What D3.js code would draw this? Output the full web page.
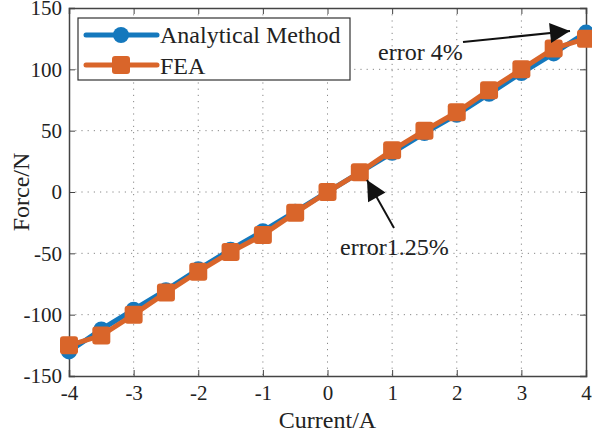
<!DOCTYPE html>
<meta charset="utf-8">
<head>
  <title>Force vs current</title>
</head>

<style>
body {
  margin: 0;
  background: #fff;
}
text {
  font-family: "Liberation Serif", "Times New Roman", serif;
  fill: #222;
}
</style>

<body>
  <div id="content">
    <svg width="592" height="436"></svg>
  </div>

  <script src="https://cdnjs.cloudflare.com/ajax/libs/d3/7.8.5/d3.min.js"></script>

  <script>
var current = [-4, -3.5, -3, -2.5, -2, -1.5, -1, -0.5, 0, 0.5, 1, 1.5, 2, 2.5, 3, 3.5, 4];
var analytical = [-130, -112, -96, -80, -63, -47, -32, -16, 0, 16, 32, 48, 63, 80, 97, 113, 130];
var fea = [-125, -117, -100, -82, -65, -49, -35, -17, 0, 16, 34, 50, 65, 83, 100, 117, 125];
var xTicks = [-4, -3, -2, -1, 0, 1, 2, 3, 4];
var yTicks = [-150, -100, -50, 0, 50, 100, 150];

var svg = d3.select('#content svg');

// plot box (don't use "top" - it's window.top)
var pL = 69, pR = 586, pT = 8, pB = 376;

var x = d3.scaleLinear().domain([-4, 4]).range([pL, pR]);
var y = d3.scaleLinear().domain([-150, 150]).range([pB, pT]);

var fmt = d => String(d);

// grid
var grid = svg.append('g')
  .attr('stroke', '#888')
  .attr('stroke-width', 1)
  .attr('stroke-dasharray', '1.2,5');

grid.selectAll('.vg')
  .data(xTicks.slice(1, -1))
  .enter().append('line')
  .attr('x1', d => x(d)).attr('x2', d => x(d))
  .attr('y1', pT).attr('y2', pB);

grid.selectAll('.hg')
  .data(yTicks.slice(1, -1))
  .enter().append('line')
  .attr('x1', pL).attr('x2', pR)
  .attr('y1', d => y(d)).attr('y2', d => y(d));

// axes (ticks inside, like matlab)
svg.append('g')
  .attr('transform', 'translate(0,' + pB + ')')
  .call(d3.axisBottom(x).tickValues(xTicks).tickSize(-6).tickPadding(9).tickFormat(fmt));
svg.append('g')
  .attr('transform', 'translate(0,' + pT + ')')
  .call(d3.axisTop(x).tickValues(xTicks).tickSize(-6).tickFormat(''));
svg.append('g')
  .attr('transform', 'translate(' + pL + ',0)')
  .call(d3.axisLeft(y).tickValues(yTicks).tickSize(-6).tickPadding(7).tickFormat(fmt));
svg.append('g')
  .attr('transform', 'translate(' + pR + ',0)')
  .call(d3.axisRight(y).tickValues(yTicks).tickSize(-6).tickFormat(''));

svg.selectAll('.domain').attr('stroke', '#444').attr('stroke-width', 1.5);
svg.selectAll('.tick line').attr('stroke', '#444');
svg.selectAll('.tick text')
  .style('font-family', '"Liberation Serif", serif')
  .style('font-size', '21px')
  .attr('fill', '#333');

// axis labels
svg.append('text')
  .attr('x', x(0)).attr('y', 428)
  .attr('text-anchor', 'middle')
  .style('font-size', '24px')
  .text('Current/A');

svg.append('text')
  .attr('transform', 'translate(29,' + y(0) + ') rotate(-90)')
  .attr('text-anchor', 'middle')
  .style('font-size', '24px')
  .text('Force/N');

// series
var blue = '#1478bd', orange = '#d9652a';
var line = d3.line().x((d, i) => x(current[i])).y(d => y(d));

svg.append('path')
  .datum(analytical)
  .attr('d', line)
  .attr('fill', 'none')
  .attr('stroke', blue)
  .attr('stroke-width', 5);

svg.selectAll('.dot')
  .data(analytical)
  .enter().append('circle')
  .attr('cx', (d, i) => x(current[i]))
  .attr('cy', d => y(d))
  .attr('r', 8)
  .attr('fill', blue);

svg.append('path')
  .datum(fea)
  .attr('d', line)
  .attr('fill', 'none')
  .attr('stroke', orange)
  .attr('stroke-width', 5);

svg.selectAll('.sq')
  .data(fea)
  .enter().append('rect')
  .attr('x', (d, i) => x(current[i]) - 9)
  .attr('y', d => y(d) - 9)
  .attr('width', 18)
  .attr('height', 18)
  .attr('rx', 3)
  .attr('fill', orange);

// legend
var legend = svg.append('g');
legend.append('rect')
  .attr('x', 78).attr('y', 18)
  .attr('width', 272).attr('height', 62)
  .attr('fill', '#fff')
  .attr('stroke', '#333')
  .attr('stroke-width', 1.2);

legend.append('line')
  .attr('x1', 86).attr('x2', 157).attr('y1', 35).attr('y2', 35)
  .attr('stroke', blue).attr('stroke-width', 5).attr('stroke-linecap', 'round');
legend.append('circle')
  .attr('cx', 121).attr('cy', 35).attr('r', 8).attr('fill', blue);
legend.append('text')
  .attr('x', 160).attr('y', 43)
  .style('font-size', '24px')
  .text('Analytical Method');

legend.append('line')
  .attr('x1', 86).attr('x2', 157).attr('y1', 65).attr('y2', 65)
  .attr('stroke', orange).attr('stroke-width', 5).attr('stroke-linecap', 'round');
legend.append('rect')
  .attr('x', 112).attr('y', 56).attr('width', 18).attr('height', 18).attr('rx', 3)
  .attr('fill', orange);
legend.append('text')
  .attr('x', 160).attr('y', 74)
  .style('font-size', '24px')
  .text('FEA');

// annotations
svg.append('defs').append('marker')
  .attr('id', 'arrow')
  .attr('viewBox', '0 0 10 10')
  .attr('refX', 10).attr('refY', 5)
  .attr('markerWidth', 28).attr('markerHeight', 20)
  .attr('markerUnits', 'userSpaceOnUse')
  .attr('orient', 'auto')
  .append('path')
  .attr('d', 'M0,0 L10,5 L0,10 z')
  .attr('fill', '#111');

svg.append('line')
  .attr('x1', 463).attr('y1', 42)
  .attr('x2', 570).attr('y2', 31)
  .attr('stroke', '#111').attr('stroke-width', 2)
  .attr('marker-end', 'url(#arrow)');

svg.append('text')
  .attr('x', 378).attr('y', 60)
  .style('font-size', '24px')
  .text('error 4%');

svg.append('line')
  .attr('x1', 394).attr('y1', 228)
  .attr('x2', 367).attr('y2', 180)
  .attr('stroke', '#111').attr('stroke-width', 2)
  .attr('marker-end', 'url(#arrow)');

svg.append('text')
  .attr('x', 340).attr('y', 255)
  .style('font-size', '24px')
  .text('error1.25%');
  </script>
</body>
</html>
